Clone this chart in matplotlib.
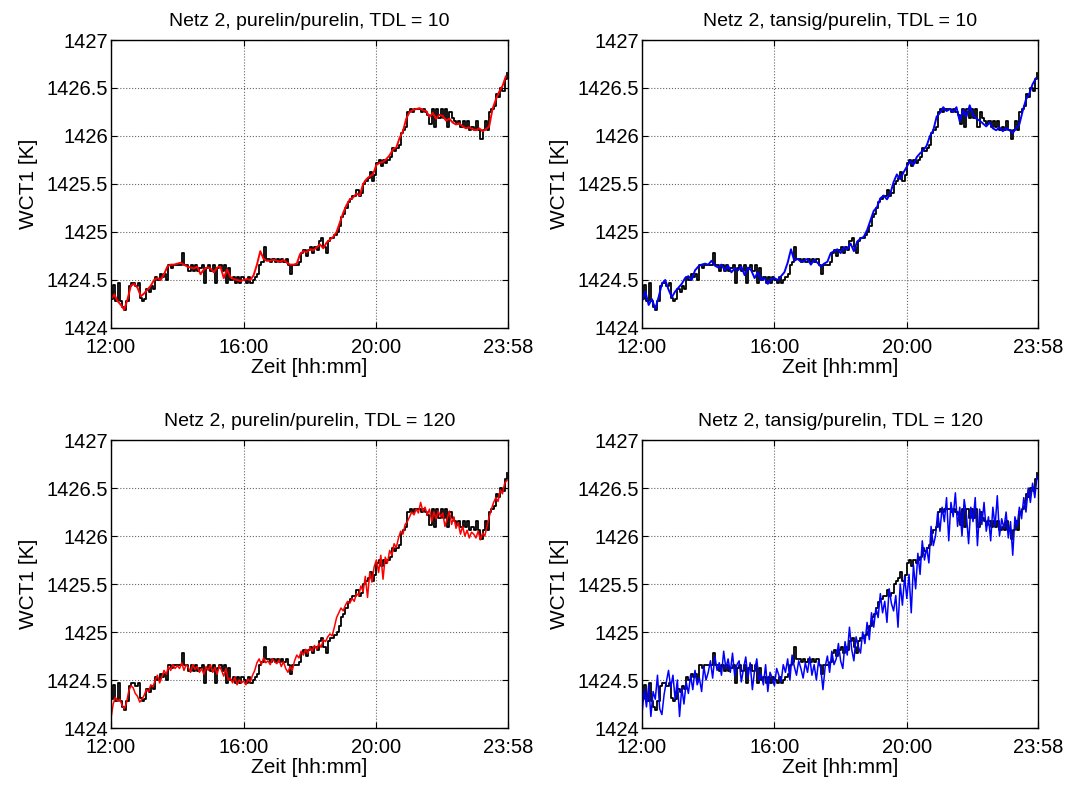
import numpy as np
import matplotlib
matplotlib.use("Agg")
import matplotlib.pyplot as plt
from matplotlib.ticker import FormatStrFormatter

plt.rcParams["font.family"] = ["Liberation Sans", "DejaVu Sans"]

# values are kelvin above 1424 K
wct_base = 1424.0

# measured WCT1, one reading every 4 minutes from 12:00
measured = [
    0.30, 0.45, 0.28, 0.47, 0.28, 0.22, 0.19, 0.28, 0.44, 0.47, 0.47, 0.44, 0.47, 0.31, 0.28,
    0.30, 0.41, 0.38, 0.44, 0.41, 0.53, 0.50, 0.56, 0.53, 0.56, 0.50, 0.66, 0.62, 0.66, 0.66,
    0.66, 0.66, 0.78, 0.66, 0.66, 0.59, 0.66, 0.59, 0.66, 0.59, 0.62, 0.66, 0.47, 0.62, 0.66,
    0.59, 0.66, 0.47, 0.62, 0.66, 0.59, 0.66, 0.47, 0.62, 0.50, 0.53, 0.47, 0.53, 0.47, 0.53,
    0.50, 0.47, 0.53, 0.47, 0.50, 0.53, 0.56, 0.66, 0.69, 0.84, 0.72, 0.72, 0.69, 0.72, 0.69,
    0.72, 0.69, 0.72, 0.69, 0.72, 0.66, 0.56, 0.66, 0.66, 0.66, 0.69, 0.78, 0.81, 0.75, 0.81,
    0.84, 0.78, 0.84, 0.81, 0.91, 0.94, 0.84, 0.78, 0.91, 0.94, 0.94, 0.97, 1.00, 1.06, 1.16,
    1.19, 1.25, 1.31, 1.34, 1.37, 1.37, 1.44, 1.37, 1.41, 1.50, 1.53, 1.56, 1.62, 1.53, 1.59,
    1.72, 1.75, 1.69, 1.75, 1.72, 1.75, 1.78, 1.88, 1.84, 1.88, 1.91, 2.03, 2.06, 2.09, 2.25,
    2.28, 2.25, 2.28, 2.28, 2.28, 2.25, 2.28, 2.25, 2.22, 2.12, 2.28, 2.09, 2.28, 2.19, 2.28,
    2.19, 2.28, 2.09, 2.25, 2.19, 2.16, 2.12, 2.16, 2.09, 2.16, 2.09, 2.16, 2.06, 2.09, 2.06,
    2.16, 2.06, 1.97, 2.06, 2.16, 2.06, 2.25, 2.28, 2.31, 2.44, 2.41, 2.50, 2.47, 2.59, 2.66,
]

# net outputs, TDL = 10 (every 6 minutes)
lin_tdl10 = [
    0.30, 0.35, 0.28, 0.24, 0.19, 0.30, 0.44, 0.46, 0.42, 0.33,
    0.36, 0.40, 0.44, 0.50, 0.52, 0.50, 0.56, 0.64, 0.66, 0.66,
    0.67, 0.68, 0.66, 0.64, 0.63, 0.62, 0.64, 0.56, 0.61, 0.63,
    0.62, 0.58, 0.63, 0.64, 0.52, 0.61, 0.53, 0.51, 0.50, 0.49,
    0.50, 0.51, 0.50, 0.55, 0.66, 0.80, 0.72, 0.70, 0.70, 0.71,
    0.70, 0.69, 0.71, 0.68, 0.66, 0.66, 0.67, 0.77, 0.80, 0.79,
    0.82, 0.81, 0.84, 0.87, 0.83, 0.89, 0.92, 0.95, 1.00, 1.10,
    1.20, 1.28, 1.34, 1.36, 1.40, 1.38, 1.50, 1.55, 1.58, 1.60,
    1.70, 1.72, 1.73, 1.76, 1.80, 1.86, 1.88, 1.98, 2.05, 2.18,
    2.25, 2.27, 2.28, 2.29, 2.27, 2.26, 2.20, 2.24, 2.18, 2.22,
    2.21, 2.16, 2.18, 2.14, 2.12, 2.13, 2.10, 2.08, 2.09, 2.07,
    2.06, 2.08, 2.05, 2.07, 2.10, 2.28, 2.38, 2.46, 2.52, 2.62,
]
tan_tdl10 = [
    0.28, 0.38, 0.24, 0.30, 0.20, 0.32, 0.46, 0.50, 0.40, 0.32,
    0.38, 0.42, 0.46, 0.52, 0.54, 0.50, 0.60, 0.64, 0.66, 0.67,
    0.66, 0.70, 0.65, 0.63, 0.66, 0.60, 0.65, 0.58, 0.62, 0.60,
    0.64, 0.55, 0.63, 0.60, 0.52, 0.58, 0.50, 0.52, 0.46, 0.51,
    0.52, 0.50, 0.54, 0.58, 0.68, 0.82, 0.70, 0.72, 0.69, 0.70,
    0.72, 0.66, 0.71, 0.68, 0.64, 0.67, 0.69, 0.78, 0.80, 0.82,
    0.78, 0.84, 0.82, 0.88, 0.80, 0.90, 0.93, 0.95, 1.02, 1.12,
    1.22, 1.26, 1.35, 1.38, 1.34, 1.40, 1.52, 1.60, 1.55, 1.62,
    1.68, 1.74, 1.70, 1.78, 1.82, 1.85, 1.90, 2.00, 2.06, 2.20,
    2.24, 2.30, 2.26, 2.28, 2.25, 2.30, 2.15, 2.27, 2.20, 2.32,
    2.22, 2.18, 2.16, 2.13, 2.10, 2.14, 2.08, 2.06, 2.09, 2.05,
    2.08, 2.06, 2.03, 2.08, 2.12, 2.26, 2.38, 2.44, 2.54, 2.60,
]

# net outputs, TDL = 120 (every 4 minutes)
lin_tdl120 = [
    0.10, 0.25, 0.32, 0.28, 0.30, 0.24, 0.20, 0.26, 0.38, 0.44, 0.42, 0.36, 0.33, 0.27, 0.30,
    0.34, 0.40, 0.38, 0.45, 0.43, 0.50, 0.55, 0.47, 0.53, 0.60, 0.56, 0.64, 0.60, 0.66, 0.62,
    0.65, 0.62, 0.68, 0.60, 0.66, 0.63, 0.58, 0.66, 0.61, 0.64, 0.58, 0.62, 0.56, 0.64, 0.60,
    0.66, 0.58, 0.63, 0.56, 0.65, 0.60, 0.54, 0.62, 0.50, 0.52, 0.47, 0.53, 0.45, 0.50, 0.47,
    0.49, 0.45, 0.51, 0.48, 0.55, 0.60, 0.68, 0.72, 0.66, 0.73, 0.68, 0.70, 0.66, 0.72, 0.69,
    0.67, 0.71, 0.64, 0.69, 0.62, 0.58, 0.64, 0.60, 0.70, 0.76, 0.73, 0.80, 0.76, 0.82, 0.78,
    0.84, 0.80, 0.86, 0.82, 0.88, 0.84, 0.92, 0.90, 0.95, 0.98, 0.96, 1.05, 1.15, 1.20, 1.25,
    1.22, 1.28, 1.32, 1.30, 1.35, 1.32, 1.40, 1.38, 1.48, 1.42, 1.58, 1.36, 1.62, 1.52, 1.68,
    1.75, 1.62, 1.80, 1.55, 1.78, 1.72, 1.85, 1.80, 1.92, 1.88, 1.98, 2.05, 2.02, 2.12, 2.15,
    2.20, 2.25, 2.22, 2.28, 2.24, 2.35, 2.26, 2.30, 2.22, 2.28, 2.15, 2.25, 2.18, 2.26, 2.20,
    2.24, 2.10, 2.18, 2.26, 2.12, 2.20, 2.08, 2.14, 2.02, 2.10, 2.00, 2.06, 1.98, 2.04, 2.02,
    1.98, 2.05, 1.96, 2.03, 2.00, 2.10, 2.20, 2.28, 2.35, 2.40, 2.36, 2.48, 2.44, 2.55, 2.58,
]
tan_tdl120 = [
    0.15, 0.40, 0.22, 0.45, 0.12, 0.38, 0.30, 0.55, 0.20, 0.14, 0.35, 0.48, 0.60, 0.42, 0.55,
    0.30, 0.50, 0.12, 0.42, 0.25, 0.48, 0.36, 0.55, 0.40, 0.60, 0.45, 0.52, 0.38, 0.64, 0.50,
    0.58, 0.70, 0.52, 0.75, 0.60, 0.68, 0.55, 0.80, 0.62, 0.72, 0.58, 0.78, 0.54, 0.66, 0.70,
    0.48, 0.62, 0.74, 0.52, 0.68, 0.40, 0.60, 0.72, 0.50, 0.56, 0.45, 0.66, 0.38, 0.58, 0.52,
    0.44, 0.62, 0.55, 0.48, 0.66, 0.58, 0.72, 0.50, 0.76, 0.64, 0.55, 0.70, 0.62, 0.52, 0.68,
    0.58, 0.74, 0.55, 0.66, 0.50, 0.70, 0.62, 0.40, 0.64, 0.75, 0.58, 0.80, 0.66, 0.72, 0.88,
    0.70, 0.62, 0.90, 0.76, 1.05, 0.82, 0.70, 0.95, 0.85, 0.78, 1.00, 0.88, 1.10, 0.92, 1.20,
    1.05, 1.25, 1.15, 1.40, 1.20, 1.32, 1.10, 1.45, 1.30, 1.22, 1.38, 1.05, 1.50, 1.28, 1.58,
    1.35, 1.60, 1.20, 1.70, 1.45, 1.82, 1.60, 1.95, 1.75, 1.88, 1.72, 2.10, 1.90, 2.00, 2.25,
    2.05, 2.30, 2.15, 2.40, 1.95, 2.35, 2.20, 2.45, 2.10, 2.30, 2.00, 2.38, 2.22, 1.92, 2.30,
    2.15, 2.40, 1.90, 2.28, 2.12, 2.35, 2.05, 2.20, 1.95, 2.30, 2.10, 2.42, 2.00, 2.18, 2.08,
    2.25, 1.98, 2.15, 1.80, 2.20, 2.10, 2.30, 2.18, 2.40, 2.25, 2.50, 2.35, 2.55, 2.40, 2.62,
]

titles = [
    "Netz 2, purelin/purelin, TDL = 10",
    "Netz 2, tansig/purelin, TDL = 10",
    "Netz 2, purelin/purelin, TDL = 120",
    "Netz 2, tansig/purelin, TDL = 120",
]
xtick_min = [0, 240, 480, 718]
xtick_labels = ["12:00", "16:00", "20:00", "23:58"]
yticks = [1424, 1424.5, 1425, 1425.5, 1426, 1426.5, 1427]


def minutes(series):
    # samples are evenly spread over 12:00 .. 23:58
    step = 720 // len(series)
    return np.arange(len(series)) * step


panels = [
    (lin_tdl10, "#ff0000", 1.4),
    (tan_tdl10, "#0000ff", 1.4),
    (lin_tdl120, "#ff0000", 1.1),
    (tan_tdl120, "#0000ff", 1.1),
]

fig = plt.figure(figsize=(10.69, 7.89), dpi=100)
boxes = [
    [0.1038, 0.5843, 0.3714, 0.365],
    [0.6006, 0.5843, 0.3705, 0.365],
    [0.1038, 0.0773, 0.3714, 0.365],
    [0.6006, 0.0773, 0.3705, 0.365],
]

for box, title, (pred, color, lw) in zip(boxes, titles, panels):
    ax = fig.add_axes(box)
    ax.plot(minutes(measured), np.array(measured) + wct_base, color="black", lw=1.3,
            drawstyle="steps-post")
    ax.plot(minutes(pred), np.array(pred) + wct_base, color=color, lw=lw)
    ax.set_xlim(0, 718)
    ax.set_ylim(1424, 1427)
    ax.set_xticks(xtick_min)
    ax.set_xticklabels(xtick_labels)
    ax.set_yticks(yticks)
    ax.yaxis.set_major_formatter(FormatStrFormatter("%g"))
    ax.grid(True, color="#666666", linestyle=":", linewidth=0.8)
    ax.tick_params(direction="in", top=True, right=True, labelsize=14.5, length=4)
    ax.tick_params(axis="x", pad=7)
    ax.tick_params(axis="y", pad=2)
    for s in ax.spines.values():
        s.set_linewidth(1.0)
    ax.set_title(title, fontsize=14, pad=10)
    ax.set_xlabel("Zeit [hh:mm]", fontsize=15, labelpad=1)
    ax.set_ylabel("WCT1 [K]", fontsize=15, labelpad=6)

fig.savefig("out.png", dpi=100)
